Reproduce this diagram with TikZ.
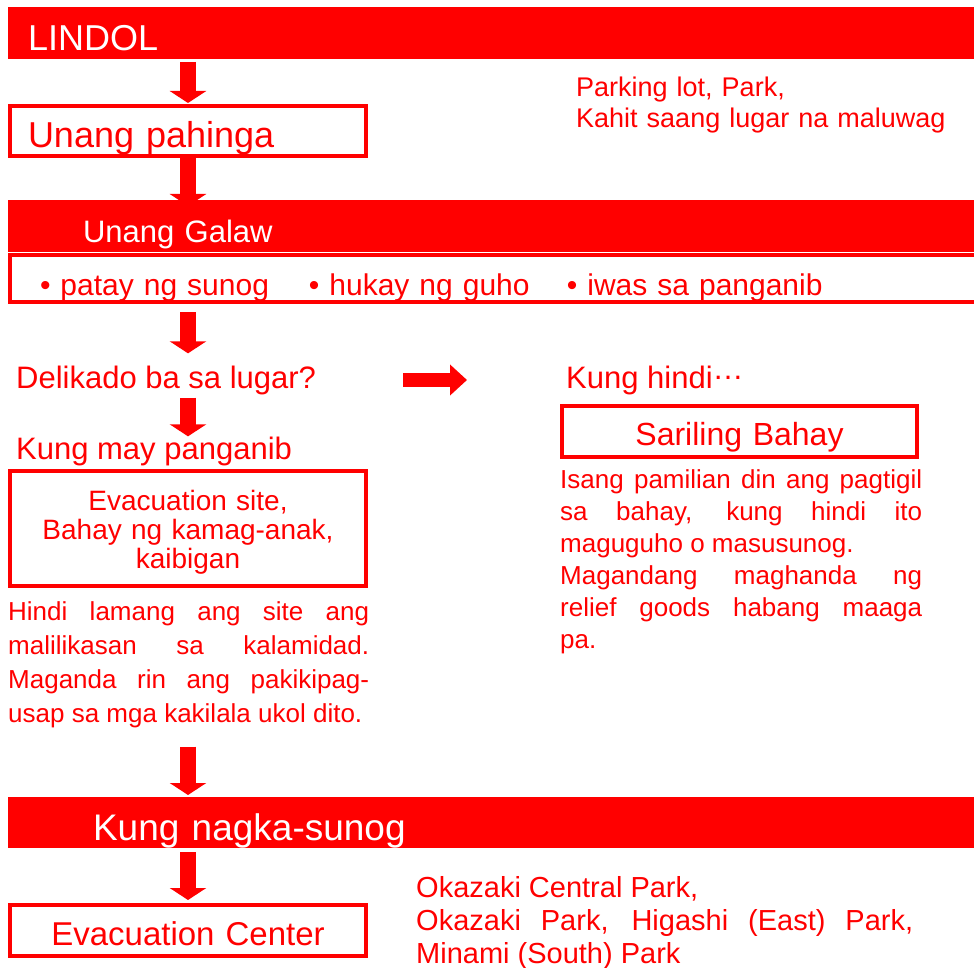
\documentclass[tikz,border=0pt]{standalone}
\usepackage{fontspec}
\setmainfont{Liberation Sans}
\usepackage{tikz}
\usetikzlibrary{arrows.meta}
\usetikzlibrary{positioning}
\usetikzlibrary{calc}

\newcommand{\fsize}[2]{\fontsize{#1pt}{#2pt}\selectfont}

\begin{document}
\begin{tikzpicture}[
                x=1pt, y=-1pt,
                bar/.style={fill=red, text=white, inner ysep=0pt, outer sep=0pt, align=left, anchor=base west},
                redbox/.style={draw=red, line width=4pt, text=red, inner ysep=0pt, outer sep=0pt, anchor=base west},
                note/.style={text=red, inner sep=0pt, anchor=base west},
                bigarrow/.style={red, line width=16pt, -{Triangle[width=36pt,length=12pt]}},
                sidearrow/.style={red, line width=14pt, -{Triangle[width=30pt,length=17pt]}}
            ]
            \useasboundingbox (0,0) rectangle (974,968);

            % Define nodes
            \node[bar, text width=926pt, inner xsep=20pt, text height=44pt, text depth=8pt, font=\fsize{36}{40}] (lindol) at (8,51) {LINDOL};
            \node[redbox, text width=320pt, inner xsep=18pt, text height=42pt, text depth=8pt, align=left, font=\fsize{36}{40}] (pahinga) at (10,148) {Unang pahinga};
            \node[note, text width=390pt, align=left, font=\fsize{27}{31}] (lugar) at (576,97) {Parking lot, Park,\\Kahit saang lugar na maluwag};

            \node[bar, text width=816pt, inner xsep=75pt, text height=43pt, text depth=9pt, font=\fsize{31}{35}] (galaw) at (8,243) {Unang Galaw};
            \node[redbox, text width=950pt, inner xsep=30pt, text height=40pt, text depth=7pt, align=left, font=\fsize{30}{34}] (gawain) at (10,295)
                {\makebox[269pt][l]{• patay ng sunog}\makebox[258pt][l]{• hukay ng guho}• iwas sa panganib};

            \node[note, font=\fsize{31}{35}] (delikado) at (16,388) {Delikado ba sa lugar?};
            \node[note, font=\fsize{31}{35}] (panganib) at (16,459) {Kung may panganib};
            \node[note, font=\fsize{31}{35}] (hindi) at (566,388) {Kung hindi\raisebox{.28em}{…}};

            \node[redbox, text width=340pt, inner xsep=8pt, text height=39pt, text depth=76pt, align=center, font=\fsize{28}{29}] (evac) at (10,510)
                {Evacuation site,\\Bahay ng kamag-anak,\\kaibigan};
            \node[note, text width=361pt, align=justify, font=\fsize{26}{34}] (leftnote) at (8,620)
                {Hindi lamang ang site ang\linebreak malilikasan sa kalamidad.\linebreak Maganda rin ang pakikipag-\linebreak usap sa mga kakilala ukol dito.};

            \node[redbox, text width=355pt, inner xsep=0pt, text height=39pt, text depth=12pt, align=center, font=\fsize{32}{36}] (bahay) at (562,445) {Sariling Bahay};
            \node[note, text width=362pt, align=justify, font=\fsize{26}{32}] (rightnote) at (560,488)
                {Isang pamilian din ang pagtigil\linebreak sa bahay, kung hindi ito\linebreak maguguho o masusunog.\\ Magandang maghanda ng\linebreak relief goods habang maaga\linebreak pa.};

            \node[bar, text width=796pt, inner xsep=85pt, text height=43pt, text depth=8pt, font=\fsize{37}{41}] (sunog) at (8,840) {Kung nagka-sunog};
            \node[redbox, text width=356pt, inner xsep=0pt, text height=40pt, text depth=11pt, align=center, font=\fsize{33}{37}] (evaccenter) at (10,945) {Evacuation Center};
            \node[note, text width=497pt, align=justify, font=\fsize{29}{33}] (parks) at (416,897)
                {Okazaki Central Park,\\ Okazaki Park, Higashi (East) Park,\linebreak Minami (South) Park};

            \coordinate (sidefrom) at (403,380);
            \coordinate (sideto) at (467,380);

            % Arrows connecting boxes
            \draw[bigarrow, shorten <=3pt, shorten >=3pt] (lindol.south -| pahinga) -- (pahinga.north);
            \draw[bigarrow, shorten >=-6pt] (pahinga.south) -- (galaw.north -| pahinga);
            \draw[bigarrow, shorten <=10pt, shorten >=12pt] (gawain.south -| pahinga) -- (delikado.north -| pahinga);
            \draw[bigarrow, shorten <=3pt] (delikado.south -| pahinga) -- (panganib.north -| pahinga);
            \draw[sidearrow] (sidefrom) -- (sideto);
            \draw[bigarrow, shorten <=19pt, shorten >=2pt] (leftnote.south -| pahinga) -- (sunog.north -| pahinga);
            \draw[bigarrow, shorten <=4pt, shorten >=5pt] (sunog.south -| pahinga) -- (evaccenter.north);

        \end{tikzpicture}
\end{document}
